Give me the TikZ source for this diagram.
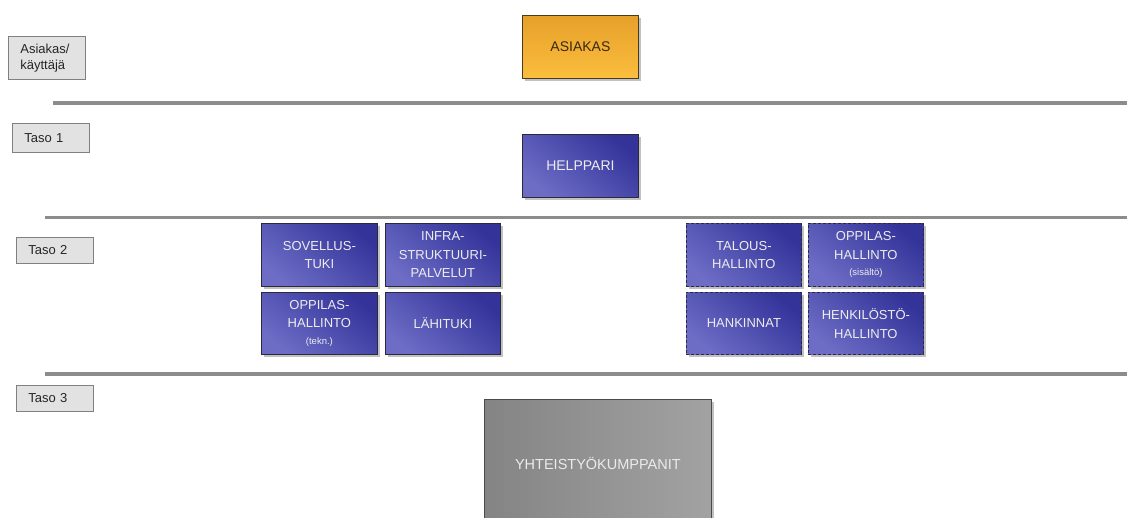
\documentclass[tikz,border=0pt]{standalone}
\usepackage{fontspec}
\setmainfont{Liberation Sans}
\usetikzlibrary{shadows}
\definecolor{labelfill}{HTML}{E2E2E2}
\definecolor{labelborder}{HTML}{808080}
\definecolor{tierline}{HTML}{8C8C8C}
\definecolor{boxborder}{HTML}{2A2A3A}
\definecolor{blueDark}{HTML}{33339A}
\definecolor{blueLight}{HTML}{6D6DC6}
\definecolor{orangeTop}{HTML}{E6A02A}
\definecolor{orangeBot}{HTML}{FBBE3E}
\definecolor{orangeBorder}{HTML}{4A3A1E}
\definecolor{orangeText}{HTML}{3A2810}
\definecolor{greyLeft}{HTML}{848484}
\definecolor{greyRight}{HTML}{A2A2A2}
\definecolor{greyBorder}{HTML}{4A4A4A}
\begin{document}
\begin{tikzpicture}[x=1pt,y=-1pt,
  tierlabel/.style={draw=labelborder, fill=labelfill, line width=0.8pt, anchor=north west,
    minimum height=29pt, text width=53pt, inner xsep=12pt, inner ysep=0pt, align=left,
    font=\fontsize{13}{16}\selectfont, text=black!85},
  tiersep/.style={draw=tierline, line width=3.2pt},
  boxshadow/.style={drop shadow={shadow xshift=2.5pt, shadow yshift=-2.5pt, opacity=0.4, fill=black!60}},
  topbox/.style={line width=0.8pt, anchor=north west, minimum width=116pt, minimum height=63pt,
    inner sep=0pt, align=center, boxshadow, font=\fontsize{14}{18}\selectfont},
  orangebox/.style={topbox, draw=orangeBorder, top color=orangeTop, bottom color=orangeBot, text=orangeText},
  bluebox/.style={topbox, draw=boxborder, top color=blueDark, bottom color=blueLight, shading angle=-40, text=white!93!black},
  midbox/.style={bluebox, font=\fontsize{13}{18.5}\selectfont, minimum width=115pt},
  dashbox/.style={midbox, dash pattern=on 3pt off 2pt},
  greybox/.style={topbox, draw=greyBorder, left color=greyLeft, right color=greyRight,
    minimum width=227pt, minimum height=128pt, text=white!92!black, font=\fontsize{14.5}{18}\selectfont}
]
\useasboundingbox[fill=white] (0,0) rectangle (1127,518);

% tier labels
\node[tierlabel, minimum height=43pt] (lab0) at (8,36) {Asiakas/\\käyttäjä};
\node[tierlabel] (lab1) at (12,123) {Taso 1};
\node[tierlabel, minimum height=26pt] (lab2) at (16,237) {Taso 2};
\node[tierlabel, minimum height=26pt] (lab3) at (16,385) {Taso 3};

% separator lines
\coordinate (s1a) at (53,103);  \coordinate (s1b) at (1127,103);
\coordinate (s2a) at (45,217.5); \coordinate (s2b) at (1127,217.5);
\coordinate (s3a) at (45,374);  \coordinate (s3b) at (1127,374);
\draw[tiersep] (s1a) -- (s1b);
\draw[tiersep] (s2a) -- (s2b);
\draw[tiersep] (s3a) -- (s3b);

% boxes
\node[orangebox] (asiakas) at (522,15) {ASIAKAS};
\node[bluebox] (helppari) at (522,134) {HELPPARI};

\node[midbox, minimum width=116pt] (sovellus) at (261,223) {SOVELLUS-\\TUKI};
\node[midbox] (infra) at (385,223) {INFRA-\\STRUKTUURI-\\PALVELUT};
\node[midbox, minimum width=116pt, minimum height=62pt] (oppilast) at (261,292) {OPPILAS-\\HALLINTO\\[-2pt]{\fontsize{9.5}{12}\selectfont(tekn.)}};
\node[midbox, minimum height=62pt] (lahituki) at (385,292) {LÄHITUKI};

\node[dashbox] (talous) at (686,223) {TALOUS-\\HALLINTO};
\node[dashbox] (oppilass) at (808,223) {OPPILAS-\\HALLINTO\\[-2pt]{\fontsize{9.5}{12}\selectfont(sisältö)}};
\node[dashbox, minimum height=62pt] (hankinnat) at (686,292) {HANKINNAT};
\node[dashbox, minimum height=62pt] (henkilosto) at (808,292) {HENKILÖSTÖ-\\HALLINTO};

\node[greybox] (yhteis) at (484,399) {YHTEISTYÖKUMPPANIT};
\end{tikzpicture}
\end{document}
